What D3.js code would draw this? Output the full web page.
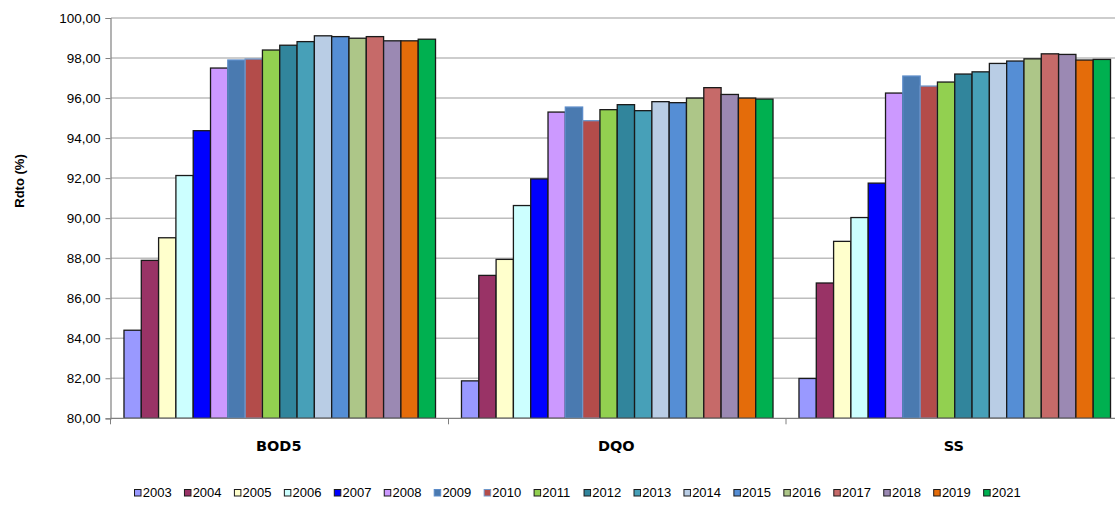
<!DOCTYPE html>
<html>
<head>
<meta charset="utf-8">
<script src="https://cdn.jsdelivr.net/npm/d3@7"></script>
<style>
  html, body { margin: 0; padding: 0; background: #ffffff; }
  svg { display: block; }
</style>
</head>
<body>
<svg id="chart" width="1115" height="505"></svg>
<script>
// Removal efficiency (%) per parameter and year
const categories = ["BOD5", "DQO", "SS"];
const years = ["2003","2004","2005","2006","2007","2008","2009","2010","2011",
               "2012","2013","2014","2015","2016","2017","2018","2019","2021"];
const bod5 = [84.40, 87.89, 89.02, 92.13, 94.37, 97.50, 97.90, 97.95, 98.40,
              98.64, 98.82, 99.11, 99.07, 98.99, 99.07, 98.86, 98.86, 98.94];
const dqo  = [81.87, 87.14, 87.94, 90.63, 91.96, 95.30, 95.55, 94.87, 95.42,
              95.67, 95.37, 95.82, 95.77, 96.00, 96.52, 96.18, 96.00, 95.95];
const ss   = [81.99, 86.76, 88.84, 90.03, 91.75, 96.25, 97.10, 96.60, 96.80,
              97.20, 97.31, 97.73, 97.85, 97.96, 98.21, 98.18, 97.90, 97.93];
const yTicks = [80, 82, 84, 86, 88, 90, 92, 94, 96, 98, 100];

const fills = ["#9999ff","#993366","#ffffcc","#ccffff","#0000ff","#cc99ff","#4a7ab0","#b34c4a","#92d050",
               "#31859c","#47a0b8","#b9cde5","#558ed5","#adc688","#c66a69","#9b89b3","#e46c0a","#00b050"];
const strokes = ["#1a1a1a","#1a1a1a","#1a1a1a","#1a1a1a","#1a1a1a","#1a1a1a","#5b8bc8","#6e96c8","#1a1a1a",
                 "#1a1a1a","#1a1a1a","#1a1a1a","#1a1a1a","#1a1a1a","#1a1a1a","#1a1a1a","#1a1a1a","#1a1a1a"];

const seriesByCat = { "BOD5": bod5, "DQO": dqo, "SS": ss };

const svg = d3.select("#chart");
const plotLeft = 111, plotRight = 1123.5, plotTop = 18, plotBottom = 418.3;

const x0 = d3.scaleBand().domain(categories).range([plotLeft, plotRight]);
const bw = x0.bandwidth();
const barW = bw / (years.length + 1.5);
const x1 = d3.scaleBand().domain(years).range([0.75 * barW, bw - 0.75 * barW]);
const y = d3.scaleLinear().domain([80, 100]).range([plotBottom, plotTop]);

// horizontal gridlines
svg.append("g")
  .selectAll("line")
  .data(yTicks.filter(t => t > 80))
  .join("line")
  .attr("x1", plotLeft).attr("x2", plotRight)
  .attr("y1", d => y(d)).attr("y2", d => y(d))
  .attr("stroke", "#bdbdbd").attr("stroke-width", 1.5);

// bars
const groups = svg.append("g")
  .selectAll("g")
  .data(categories)
  .join("g")
  .attr("transform", c => `translate(${x0(c)},0)`);

groups.selectAll("rect")
  .data(c => seriesByCat[c].map((v, i) => ({ year: years[i], value: v, i })))
  .join("rect")
  .attr("x", d => x1(d.year))
  .attr("y", d => y(d.value))
  .attr("width", x1.bandwidth())
  .attr("height", d => y(80) - y(d.value))
  .attr("fill", d => fills[d.i])
  .attr("stroke", d => strokes[d.i])
  .attr("stroke-width", 1.3);

// y axis
const yAxis = d3.axisLeft(y)
  .tickValues(yTicks)
  .tickFormat(d => d3.format(".2f")(d).replace(".", ","))
  .tickSize(5)
  .tickPadding(5);
const gy = svg.append("g").attr("transform", `translate(${plotLeft - 0.5},0)`).call(yAxis);
gy.select(".domain").attr("stroke", "#808080").attr("stroke-width", 1.2);
gy.selectAll(".tick line").attr("stroke", "#808080");
gy.selectAll("text")
  .attr("font-family", "Arial, 'Liberation Sans', sans-serif")
  .attr("font-size", 13.5).attr("fill", "#000");

// x axis with tick marks between categories
const gx = svg.append("g").attr("transform", `translate(0,${plotBottom})`);
gx.append("line")
  .attr("x1", plotLeft - 0.5).attr("x2", plotRight)
  .attr("stroke", "#808080").attr("stroke-width", 1.2);
gx.selectAll(".sep")
  .data(categories)
  .join("line")
  .attr("class", "sep")
  .attr("x1", c => x0(c) + bw).attr("x2", c => x0(c) + bw)
  .attr("y1", 0).attr("y2", 6)
  .attr("stroke", "#808080");
gx.append("line")
  .attr("x1", plotLeft - 0.5).attr("x2", plotLeft - 0.5)
  .attr("y1", 0).attr("y2", 6)
  .attr("stroke", "#808080");
gx.selectAll(".cat")
  .data(categories)
  .join("text")
  .attr("class", "cat")
  .attr("x", c => x0(c) + bw / 2 - 1)
  .attr("y", 33)
  .attr("text-anchor", "middle")
  .attr("font-family", "'DejaVu Sans', Verdana, sans-serif")
  .attr("font-weight", "bold")
  .attr("font-size", 14.5)
  .text(c => c);

// y axis title
svg.append("text")
  .attr("transform", "translate(24,181) rotate(-90)")
  .attr("text-anchor", "middle")
  .attr("font-family", "Arial, 'Liberation Sans', sans-serif")
  .attr("font-weight", "bold")
  .attr("font-size", 13)
  .text("Rdto (%)");

// legend
const legend = svg.append("g").attr("transform", "translate(134,489)");
const item = legend.selectAll("g")
  .data(years)
  .join("g")
  .attr("transform", (d, i) => `translate(${i * 49.95},0)`);
item.append("rect")
  .attr("x", 0.5).attr("y", 0.5)
  .attr("width", 6.5).attr("height", 6.5)
  .attr("fill", (d, i) => fills[i])
  .attr("stroke", (d, i) => strokes[i])
  .attr("stroke-width", 1);
item.append("text")
  .attr("x", 8.7).attr("y", 8.3)
  .attr("font-family", "Arial, 'Liberation Sans', sans-serif")
  .attr("font-size", 13)
  .text(d => d);
</script>
</body>
</html>
